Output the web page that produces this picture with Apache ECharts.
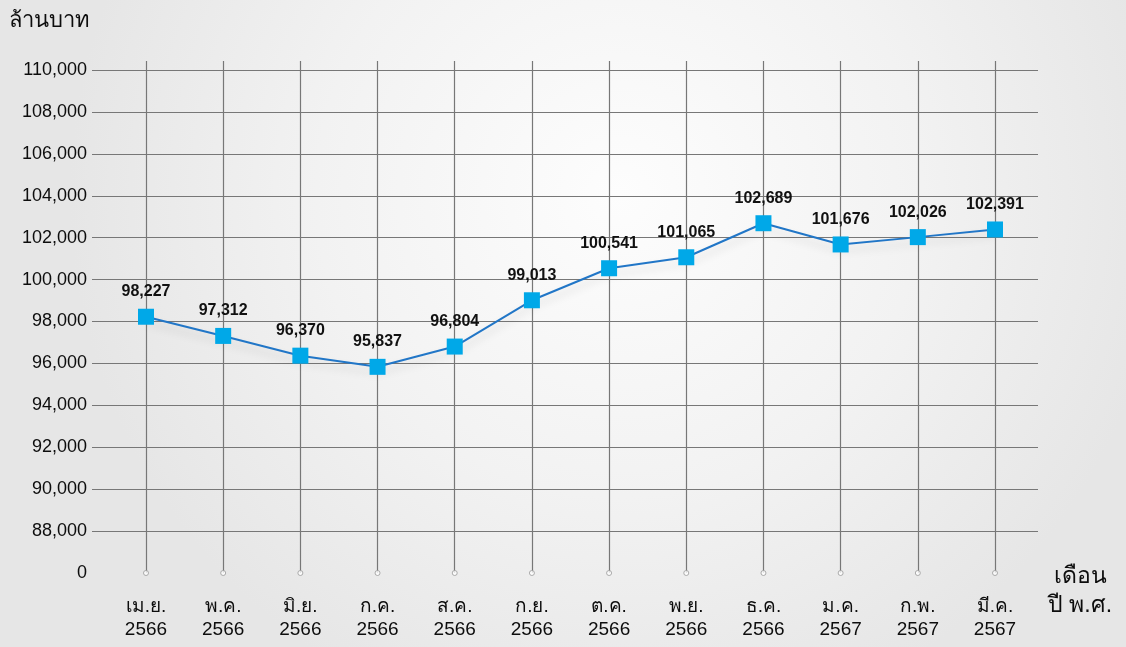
<!DOCTYPE html>
<html>
<head>
<meta charset="utf-8">
<script src="https://cdn.jsdelivr.net/npm/echarts@6/dist/echarts.min.js"></script>
<style>
  html, body { margin: 0; padding: 0; }
  #chart { width: 1126px; height: 647px; }
</style>
</head>
<body>
<div id="chart"></div>
<script>
// เดือน / ปี พ.ศ.
const months = ["เม.ย.\n2566", "พ.ค.\n2566", "มิ.ย.\n2566", "ก.ค.\n2566", "ส.ค.\n2566", "ก.ย.\n2566",
  "ต.ค.\n2566", "พ.ย.\n2566", "ธ.ค.\n2566", "ม.ค.\n2567", "ก.พ.\n2567", "มี.ค.\n2567"];
// ล้านบาท
const values = [98227, 97312, 96370, 95837, 96804, 99013, 100541, 101065, 102689, 101676, 102026, 102391];
// axis break: lowest tick shown as 0
const yMin = 86000;
const yMax = 110000;
const yStep = 2000;

const font = '"Liberation Sans", Arial, sans-serif';
const textColor = "#0d0d0d";
const gridColor = "#777777";

const chart = echarts.init(document.getElementById("chart"));

// second y-axis spans a little taller, so vertical lines start above the 110,000 line
const pxPerUnit = (573 - 70) / (yMax - yMin);
const yMax2 = yMin + (573 - 61) / pxPerUnit;

chart.setOption({
  backgroundColor: new echarts.graphic.RadialGradient(0.55, 0.3, 0.85, [
    { offset: 0, color: "#fdfdfd" },
    { offset: 0.55, color: "#f2f2f2" },
    { offset: 1, color: "#e6e6e6" },
  ]),
  animation: false,
  grid: [
    { left: 92, right: 88, top: 70, bottom: 74 },
    { left: 146, right: 131, top: 61, bottom: 74 },
  ],
  // x-axis name, placed under the axis end like the original
  graphic: [
    {
      type: "text",
      x: 1080,
      y: 562,
      style: {
        text: "เดือน\nปี พ.ศ.",
        fill: textColor,
        font: "23px " + font,
        lineHeight: 29,
        align: "center",
        verticalAlign: "top",
      },
    },
  ],
  xAxis: [
    {
      gridIndex: 0,
      type: "category",
      data: months,
      show: false,
    },
    {
      gridIndex: 1,
      type: "category",
      data: months,
      boundaryGap: false,
      axisLine: { show: false },
      axisTick: { show: false },
      axisLabel: {
        interval: 0,
        margin: 22,
        color: textColor,
        fontFamily: font,
        fontSize: 19,
        lineHeight: 23,
      },
      splitLine: { show: true, lineStyle: { color: gridColor, width: 1.2 } },
    },
  ],
  yAxis: [
    {
      gridIndex: 0,
      type: "value",
      min: yMin,
      max: yMax,
      interval: yStep,
      axisLine: { show: false },
      axisTick: { show: false },
      axisLabel: {
        margin: 5,
        color: textColor,
        fontFamily: font,
        fontSize: 18,
        formatter: (v) => (v === yMin ? "0" : v.toLocaleString("en-US")),
      },
      splitLine: { show: true, showMinLine: false, lineStyle: { color: gridColor, width: 1.2 } },
      name: "ล้านบาท",
      nameLocation: "end",
      nameGap: 38,
      nameTextStyle: {
        color: textColor,
        fontFamily: font,
        fontSize: 22,
        align: "right",
        padding: [0, 2, 0, 0],
      },
    },
    {
      gridIndex: 1,
      type: "value",
      min: yMin,
      max: yMax2,
      show: false,
      splitLine: { show: false },
    },
  ],
  series: [
    {
      type: "scatter",
      xAxisIndex: 1,
      yAxisIndex: 1,
      silent: true,
      symbol: "circle",
      symbolSize: 5,
      itemStyle: { color: "#ffffff", borderColor: "#9a9a9a", borderWidth: 1 },
      data: months.map((m) => [m, yMin]),
      z: 3,
    },
    {
      type: "line",
      xAxisIndex: 1,
      yAxisIndex: 1,
      data: values,
      symbol: "rect",
      symbolSize: 16,
      lineStyle: {
        color: "#2176c7",
        width: 2,
        shadowColor: "rgba(0,0,0,0.15)",
        shadowBlur: 8,
        shadowOffsetY: 6,
      },
      itemStyle: { color: "#00a8e8" },
      label: {
        show: true,
        position: "top",
        distance: 9,
        color: "#111111",
        fontFamily: font,
        fontWeight: "bold",
        fontSize: 16,
        formatter: (p) => p.value.toLocaleString("en-US"),
      },
      z: 5,
    },
  ],
});
</script>
</body>
</html>
